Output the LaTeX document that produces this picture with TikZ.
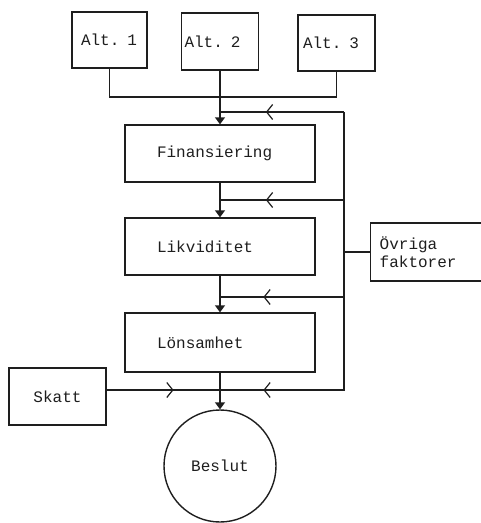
\documentclass[tikz,border=0pt]{standalone}
\usepackage{fontspec}
\setmainfont{Liberation Mono}
\usetikzlibrary{arrows.meta,decorations.markings,calc}
\definecolor{ink}{HTML}{1E1E1E}
\tikzset{
  txt/.style={font=\fontsize{16}{18.5}\selectfont, text=ink},
  box/.style={draw=ink, line width=1.4pt, minimum height=57pt, inner ysep=0pt, align=left, txt},
  conn/.style={draw=ink, line width=1.5pt},
  midarr/.style={postaction={decorate}, decoration={markings, mark=at position #1 with {\arrow[ink]{Straight Barb[length=6pt,width=15pt,line width=1.2pt]}}}},
  downarr/.style={-{Triangle[length=7pt,width=10pt]}}
}
\begin{document}
\begin{tikzpicture}[x=1pt,y=-1pt]
\useasboundingbox (0,0) rectangle (481,523);
\begin{scope}
\clip (0,0) rectangle (481,523);
% boxes
\node[box, text width=57pt, inner xsep=9pt, minimum height=56pt] (alt1) at (109.5,40) {Alt. 1};
\node[box, text width=71pt, inner xsep=3pt] (alt2) at (220,41.5) {Alt. 2};
\node[box, text width=67pt, inner xsep=5pt, minimum height=56pt] (alt3) at (336.5,43) {Alt. 3};
\node[box, text width=126pt, inner xsep=32pt] (fin) at (220,153.5) {Finansiering};
\node[box, text width=126pt, inner xsep=32pt] (lik) at (220,246.5) {Likviditet};
\node[box, text width=126pt, inner xsep=32pt, minimum height=59pt] (lon) at (220,342.5) {Lönsamhet};
\node[box, text width=97pt, inner xsep=0pt, align=center] (skatt) at (57.5,396.5) {Skatt};
\node[box, anchor=west, text width=110pt, inner xsep=9pt, minimum height=58pt] (ovr) at (370,252) {Övriga\\faktorer};
\node[draw=ink, line width=1.4pt, circle, minimum size=112pt, inner sep=0pt, txt] (beslut) at (220,466) {Beslut};
\end{scope}
% junctions
\coordinate (ja) at (109.5,97);
\coordinate (jc) at (336.5,97);
\coordinate (m1) at (220,112);
\coordinate (m2) at (220,200);
\coordinate (m3) at (220,297);
\coordinate (m4) at (220,390);
\coordinate (r1) at (344,112);
\coordinate (r2) at (344,200);
\coordinate (r3) at (344,297);
\coordinate (r4) at (344,390);
\coordinate (o) at (344,252);
% alternatives
\draw[conn] (alt1.south) -- (ja) -- (jc) -- (alt3.south);
\draw[conn, downarr] (alt2.south) -- (fin.north);
% main chain
\draw[conn, downarr] (fin.south) -- (lik.north);
\draw[conn, downarr] (lik.south) -- (lon.north);
\draw[conn, downarr] (lon.south) -- (beslut.north);
% right loop
\draw[conn] (m4) -- (r4) -- (r1);
\draw[conn, midarr=0.63] (r1) -- (m1);
\draw[conn, midarr=0.63] (r2) -- (m2);
\draw[conn, midarr=0.65] (r3) -- (m3);
\draw[conn, midarr=0.65] (r4) -- (m4);
\draw[conn] (o) -- (ovr.west);
% tax
\draw[conn, midarr=0.59] (skatt.east |- m4) -- (m4);
\end{tikzpicture}
\end{document}
